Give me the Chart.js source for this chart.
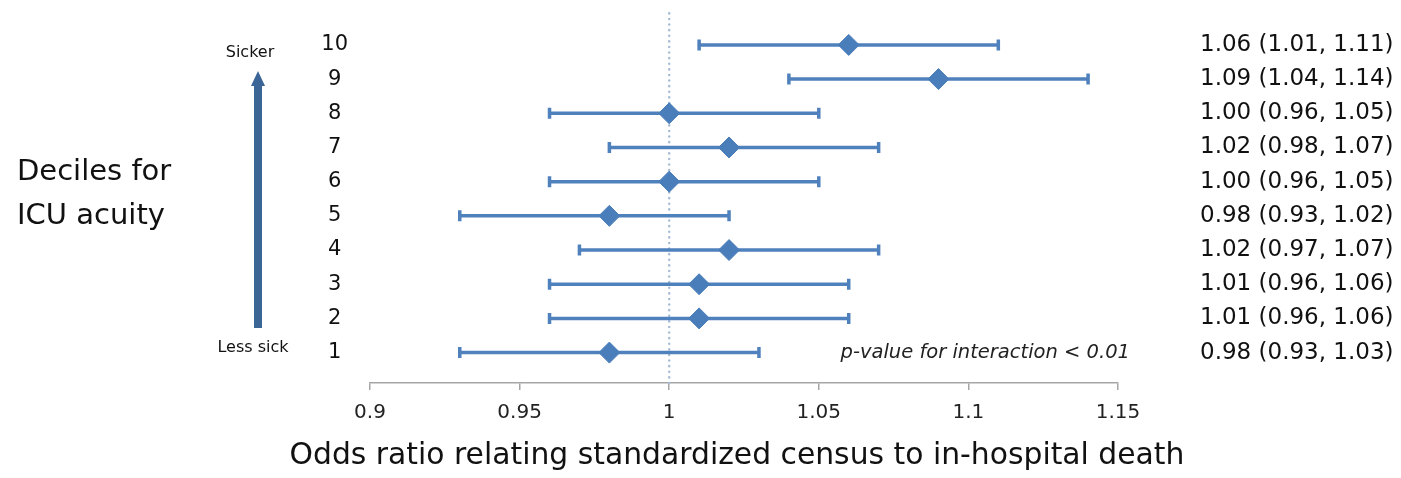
<!DOCTYPE html>
<html>
<head>
<meta charset="utf-8">
<script src="https://cdn.jsdelivr.net/npm/chart.js@4.4.1/dist/chart.umd.min.js"></script>
<style>
html,body{margin:0;padding:0;background:#fff;}
#wrap{width:1401px;height:478px;position:relative;}
</style>
</head>
<body>
<div id="wrap"><canvas id="c" width="1401" height="478"></canvas></div>
<script>
const deciles = [10, 9, 8, 7, 6, 5, 4, 3, 2, 1];
const oddsRatio = [1.06, 1.09, 1.00, 1.02, 1.00, 0.98, 1.02, 1.01, 1.01, 0.98];
const ciLow  = [1.01, 1.04, 0.96, 0.98, 0.96, 0.93, 0.97, 0.96, 0.96, 0.93];
const ciHigh = [1.11, 1.14, 1.05, 1.07, 1.05, 1.02, 1.07, 1.06, 1.06, 1.03];
const ciLabels = ["1.06 (1.01, 1.11)", "1.09 (1.04, 1.14)", "1.00 (0.96, 1.05)", "1.02 (0.98, 1.07)",
  "1.00 (0.96, 1.05)", "0.98 (0.93, 1.02)", "1.02 (0.97, 1.07)", "1.01 (0.96, 1.06)",
  "1.01 (0.96, 1.06)", "0.98 (0.93, 1.03)"];
const xTicks = [0.9, 0.95, 1, 1.05, 1.1, 1.15];
const xTickLabels = ["0.9", "0.95", "1", "1.05", "1.1", "1.15"];
const referenceValue = 1;
const xTitle = 'Odds ratio relating standardized census to in-hospital death';
const yTitleLines = ['Deciles for', 'ICU acuity'];

const FONT = "'DejaVu Sans', sans-serif";
const BLUE = '#4f81bd';

const datasets = [];
datasets.push({
  type: 'line',
  data: [{x: referenceValue, y: 0.111}, {x: referenceValue, y: 11.02}],
  borderColor: '#a9bdd6', borderWidth: 2.5, borderDash: [0.1, 5.5], borderCapStyle: 'round',
  pointRadius: 0, yAxisID: 'y', order: 5, clip: false
});
deciles.forEach((d, i) => {
  datasets.push({
    type: 'line',
    data: [{x: ciLow[i], y: d}, {x: ciHigh[i], y: d}],
    borderColor: BLUE, borderWidth: 3.5,
    pointStyle: 'line', rotation: 90, pointRadius: 5.5, pointBorderWidth: 3.5,
    pointBorderColor: BLUE, pointBackgroundColor: BLUE, yAxisID: 'y', order: 2
  });
});
datasets.push({
  type: 'scatter',
  data: deciles.map((d, i) => ({x: oddsRatio[i], y: d})),
  pointStyle: 'rectRot', pointRadius: 10.5,
  backgroundColor: '#4a7ebb', borderColor: '#4a7ebb', borderWidth: 1,
  yAxisID: 'y', order: 1
});

const annot = {
  id: 'annot',
  afterDraw(chart) {
    const ctx = chart.ctx;
    const ys = chart.scales.y;
    ctx.save();
    ctx.fillStyle = '#111';
    ctx.textBaseline = 'middle';
    ctx.textAlign = 'left';
    ctx.font = "29px " + FONT;
    ctx.fillText(yTitleLines[0], 17, 172);
    ctx.fillText(yTitleLines[1], 17, 216);
    ctx.textAlign = 'center';
    ctx.font = "29.8px " + FONT;
    ctx.fillText(xTitle, 737, 456);
    ctx.font = "16px " + FONT;
    ctx.fillText('Sicker', 250, 53);
    ctx.fillText('Less sick', 253, 348);
    const ax = 258;
    ctx.fillStyle = '#3b6597';
    ctx.fillRect(ax - 4, 84, 8, 244);
    ctx.beginPath();
    ctx.moveTo(ax, 71);
    ctx.lineTo(ax + 7, 86);
    ctx.lineTo(ax - 7, 86);
    ctx.closePath();
    ctx.fill();
    ctx.fillStyle = '#222';
    ctx.font = "italic 19.5px " + FONT;
    ctx.textAlign = 'right';
    ctx.fillText('p-value for interaction < 0.01', 1130, ys.getPixelForValue(1));
    ctx.restore();
  }
};

new Chart(document.getElementById('c'), {
  data: {datasets},
  options: {
    responsive: false, animation: false,
    layout: {padding: {top: 0, left: 0, right: 0, bottom: 0}},
    plugins: {legend: {display: false}, tooltip: {enabled: false}},
    scales: {
      x: {
        type: 'linear', min: 0.9, max: 1.15,
        afterBuildTicks(s) { s.ticks = xTicks.map(v => ({value: v})); },
        ticks: {
          callback: (v, i) => xTickLabels[i],
          font: {family: FONT, size: 20}, color: '#222', padding: 11, maxRotation: 0
        },
        grid: {display: true, drawOnChartArea: false, drawTicks: true, tickLength: 7, color: '#a6a6a6', lineWidth: 1.5},
        border: {display: true, color: '#a6a6a6', width: 1.5},
        title: {display: false},
        afterFit(s) { s.height = 95; }
      },
      y: {
        type: 'linear', position: 'left', min: 0.111, max: 10.91,
        afterBuildTicks(s) { s.ticks = deciles.map(v => ({value: v})); },
        ticks: {
          callback: (v) => String(v), crossAlign: 'center',
          font: {family: FONT, size: 21}, color: '#111', padding: 0
        },
        grid: {display: false, drawTicks: true, tickLength: 22},
        border: {display: false},
        afterFit(s) { s.width = 370; }
      },
      y2: {
        type: 'linear', position: 'right', min: 0.111, max: 10.91,
        afterBuildTicks(s) { s.ticks = deciles.map(v => ({value: v})); },
        ticks: {
          callback: (v) => ciLabels[deciles.indexOf(v)], crossAlign: 'near',
          font: {family: FONT, size: 23}, color: '#111', padding: 0
        },
        grid: {display: false, drawTicks: true, tickLength: 82},
        border: {display: false},
        afterFit(s) { s.width = 283; }
      }
    }
  },
  plugins: [annot]
});
</script>
</body>
</html>
